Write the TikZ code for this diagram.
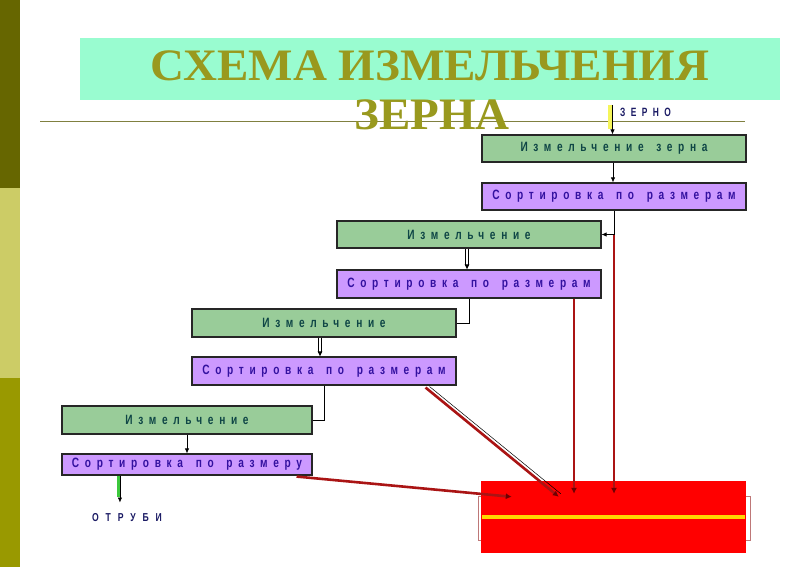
\documentclass[tikz,border=0pt]{standalone}
\usepackage{fontspec}
\setmainfont{Liberation Sans}
\newfontfamily\titlefont[FakeStretch=1.045]{Liberation Serif}
\newfontfamily\boxfont[FakeStretch=0.75,LetterSpace=42,WordSpace=1.5]{Liberation Sans}
\newfontfamily\zfont[FakeStretch=0.7,LetterSpace=45]{Liberation Sans}
\newfontfamily\ofont[FakeStretch=0.75,LetterSpace=60]{Liberation Sans}
\usetikzlibrary{arrows.meta,calc}
\definecolor{olivedark}{RGB}{102,102,0}
\definecolor{olivelight}{RGB}{204,204,102}
\definecolor{olivemid}{RGB}{153,153,0}
\definecolor{aquaband}{RGB}{153,252,208}
\definecolor{titlecol}{RGB}{153,153,30}
\definecolor{greenfill}{RGB}{153,204,153}
\definecolor{purplefill}{RGB}{204,153,255}
\definecolor{greentext}{RGB}{15,70,70}
\definecolor{purpletext}{RGB}{51,17,160}
\definecolor{redline}{RGB}{170,20,20}
\definecolor{redtip}{RGB}{110,0,0}
\definecolor{navytext}{RGB}{26,26,100}
\definecolor{rulecol}{RGB}{128,128,64}
\definecolor{zyellow}{RGB}{245,245,90}
\definecolor{ygold}{RGB}{255,215,0}
\definecolor{arrowgreen}{RGB}{60,200,60}
\definecolor{bracketcol}{RGB}{190,120,120}
\tikzset{
  titletext/.style={inner sep=0pt, text=titlecol, font=\titlefont\bfseries\fontsize{45}{48}\selectfont},
  boxbase/.style={draw=black!85, line width=1.1pt, inner sep=0pt, minimum width=264pt, minimum height=27pt,
    font=\boxfont\bfseries\fontsize{13.5}{15}\selectfont},
  grn/.style={boxbase, fill=greenfill, text=greentext},
  prp/.style={boxbase, fill=purplefill, text=purpletext},
  blk/.style={draw=black, line width=0.8pt, -{Latex[length=5pt,width=4.5pt]}},
  conn/.style={draw=black, line width=0.8pt},
  dbl/.style={draw=black, line width=0.6pt, double=white, double distance=2pt, -{Latex[length=5pt,width=5pt]}},
  redarr/.style={draw=redline, line width=2.6pt, -{Latex[length=6pt,width=6pt,color=redtip]}},
}
\begin{document}
\begin{tikzpicture}[x=1pt,y=-1pt]
\useasboundingbox (0,0) rectangle (800,567);
\fill[white] (0,0) rectangle (800,567);
% left bar
\fill[olivedark] (0,0) rectangle (19.5,188);
\fill[olivelight] (0,188) rectangle (19.5,378);
\fill[olivemid] (0,378) rectangle (19.5,567);
% title band
\fill[aquaband] (80,38) rectangle (780,100);
\draw[rulecol, line width=0.8pt] (40,121) -- (745,121);
\node[titletext, anchor=base] (t1) at (430,81) {СХЕМА ИЗМЕЛЬЧЕНИЯ};
\node[titletext, anchor=base] (t2) at (432,129) {ЗЕРНА};
% boxes
\node[grn] (b1) at (614,148.5) {Измельчение зерна};
\node[prp] (b2) at (614,196.5) {Сортировка по размерам};
\node[grn] (b3) at (469,234.5) {Измельчение};
\node[prp, minimum height=28pt] (b4) at (469,284) {Сортировка по размерам};
\node[grn, minimum height=28pt] (b5) at (324,323) {Измельчение};
\node[prp, minimum height=28pt] (b6) at (324,371) {Сортировка по размерам};
\node[grn, minimum width=250pt, minimum height=28pt] (b7) at (187,420) {Измельчение};
\node[prp, minimum width=250pt, minimum height=21pt] (b8) at (187,464.5) {Сортировка по размеру};
% red block
\node[fill=red, minimum width=265pt, minimum height=72pt, inner sep=0pt] (rb) at (613.5,517) {};
\draw[ygold, line width=4pt] ($(rb.west)+(1,0)$) -- ($(rb.east)+(-1,0)$);
\draw[bracketcol, line width=0.5pt] ($(rb.west)+(0,-21)$) -- ++(-3,0) -- ++(0,44) -- ++(3,0);
\draw[bracketcol, line width=0.5pt] ($(rb.east)+(0,-21)$) -- ++(4,0) -- ++(0,44) -- ++(-4,0);
\coordinate (rbtop) at ($(rb.north)+(0,13)$);
% ZERNO input
\node[anchor=west, inner sep=0pt, text=navytext, font=\zfont\bfseries\fontsize{12}{14}\selectfont] (zt) at (620,112.5) {ЗЕРНО};
\coordinate (zin) at (610,105);
\draw[zyellow, line width=3.5pt] (zin) -- ($(zin |- b1.north)+(0,-5)$);
\draw[blk] ($(zin)+(2.5,0)$) -- ($(zin |- b1.north)+(2.5,0)$);
% connectors
\draw[blk] ([xshift=-1pt]b1.south) -- ([xshift=-1pt]b2.north);
\coordinate (r1) at (b2.south |- b3.east);
\draw[redarr] (r1) -- (r1 |- rbtop);
\draw[blk] (b2.south) |- (b3.east);
\draw[dbl] ([xshift=-2pt]b3.south) -- ([xshift=-2pt]b4.north);
\draw[conn] (b4.south) |- (b5.east);
\coordinate (r2) at ($(b4.south)+(105,0)$);
\draw[redarr] (r2) -- (r2 |- rbtop);
\draw[dbl] ([xshift=-4pt]b5.south) -- ([xshift=-4pt]b6.north);
\draw[conn] (b6.south) |- (b7.east);
\draw[redarr] ($(b6.south east)+(-31,2)$) -- ($(rb.north west)+(78,16)$);
\draw[black, line width=0.5pt] ($(b6.south east)+(-27,1)$) -- ($(rb.north west)+(80,13)$);
\draw[blk] (b7.south) -- (b8.north);
\draw[redarr] ($(b8.south east)+(-16,1)$) -- ($(rb.north west)+(31,16)$);
% OTRUBI output
\node[inner sep=0pt, text=navytext, font=\ofont\bfseries\fontsize{11.5}{13}\selectfont] (otr) at (127,517.5) {ОТРУБИ};
\coordinate (g1) at ($(b8.south west)+(57,0)$);
\draw[arrowgreen, line width=3.5pt] (g1) -- ++(0,21);
\draw[blk] ($(g1)+(1.5,0)$) -- ($(g1)+(1.5,27)$);
\end{tikzpicture}
\end{document}
